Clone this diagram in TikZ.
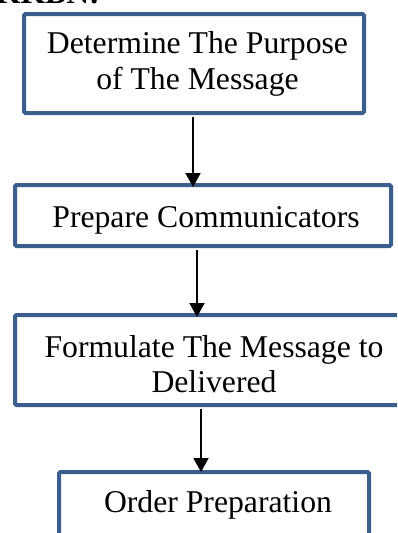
\documentclass[tikz,border=0pt]{standalone}
\usepackage{fontspec}
\setmainfont{Liberation Serif}
\usetikzlibrary{arrows.meta}
\definecolor{boxblue}{RGB}{58,95,142}
\begin{document}
\begin{tikzpicture}[x=1pt,y=-1pt,
  stepbox/.style={draw=boxblue,line width=4pt,rounded corners=1.5pt,inner sep=0pt,fill=none},
  steptext/.style={inner sep=0pt,align=center,font=\fontsize{31.7pt}{36pt}\selectfont},
  flowarrow/.style={draw=black,line width=2pt,-{Triangle[width=15pt,length=14pt]}}]
\path[use as bounding box] (0,0) rectangle (397,533);
\clip (0,0) rectangle (397,533);
% partially visible heading
\node[inner sep=0pt,anchor=base east,font=\fontsize{31.7pt}{36pt}\selectfont\bfseries] (head) at (100,3) {BKKBN:};
% boxes
\node[stepbox,minimum width=340pt,minimum height=99pt] (b1) at (194,63.5) {};
\node[stepbox,minimum width=376pt,minimum height=61pt] (b2) at (203,215.5) {};
\node[stepbox,minimum width=395pt,minimum height=90pt] (b3) at (212.5,360) {};
\node[stepbox,minimum width=310pt,minimum height=80pt] (b4) at (214,512) {};
% texts
\node[steptext] (t1) at (197.5,63.6) {Determine The Purpose\\of The Message};
\node[steptext,anchor=base] (t2) at (206,227) {Prepare Communicators};
\node[steptext,font=\fontsize{31.7pt}{35pt}\selectfont] (t3) at (214,363.7) {Formulate The Message to\\Delivered};
\node[steptext,anchor=base] (t4) at (218,512) {Order Preparation};
% arrows
\draw[flowarrow] ([xshift=-1pt,yshift=-2pt]b1.south) -- ([xshift=-10pt,yshift=-4pt]b2.north);
\draw[flowarrow] ([xshift=-6pt,yshift=-2pt]b2.south) -- ([xshift=-15.5pt,yshift=-4pt]b3.north);
\draw[flowarrow] ([xshift=-11.5pt,yshift=-2pt]b3.south) -- ([xshift=-13pt,yshift=-2pt]b4.north);
\end{tikzpicture}
\end{document}
